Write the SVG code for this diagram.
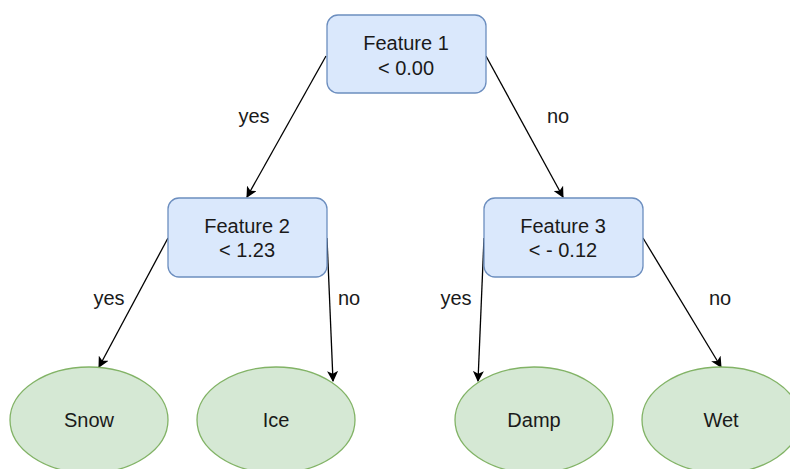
<svg xmlns="http://www.w3.org/2000/svg" width="790" height="469" viewBox="0 0 790 469">
<style>
.box{fill:#dae8fc;stroke:#6c8ebf;stroke-width:1.3}
.leaf{fill:#d5e8d4;stroke:#82b366;stroke-width:1.3}
text{font-family:"Liberation Sans",Arial,sans-serif;font-size:20px;fill:#1a1a1a;text-anchor:middle}
.edge{stroke:#000;stroke-width:1.3;fill:none;marker-end:url(#arr)}
</style>
<defs>
<marker id="arr" viewBox="0 0 10 10" refX="9" refY="5" markerWidth="11" markerHeight="11" markerUnits="userSpaceOnUse" orient="auto">
<path d="M0,0 L10,5 L0,10 L2.5,5 Z" fill="#000"/>
</marker>
</defs>
<rect width="790" height="469" fill="#fff"/>
<g id="connectors">
<line class="edge" x1="326" y1="56" x2="247" y2="197"/>
<line class="edge" x1="486" y1="56" x2="563" y2="197"/>
<line class="edge" x1="168" y1="238" x2="99" y2="367"/>
<line class="edge" x1="327" y1="238" x2="333" y2="381"/>
<line class="edge" x1="484" y1="238" x2="478" y2="381"/>
<line class="edge" x1="643" y1="238" x2="721" y2="367"/>
<text x="254" y="123">yes</text>
<text x="558" y="123">no</text>
<text x="109" y="305">yes</text>
<text x="349" y="305">no</text>
<text x="456" y="305">yes</text>
<text x="720" y="305">no</text>
</g>
<g id="root">
<rect class="box" x="327" y="15" width="159" height="78" rx="11"/>
<text x="406" y="50">Feature 1</text>
<text x="406" y="75">&lt; 0.00</text>
</g>
<g id="feature2">
<rect class="box" x="168" y="198" width="159" height="79" rx="11"/>
<text x="247" y="233">Feature 2</text>
<text x="247" y="257">&lt; 1.23</text>
</g>
<g id="feature3">
<rect class="box" x="484" y="198" width="159" height="79" rx="11"/>
<text x="563" y="233">Feature 3</text>
<text x="563" y="257">&lt; - 0.12</text>
</g>
<g id="snow">
<ellipse class="leaf" cx="89" cy="420" rx="79" ry="53"/>
<text x="89" y="427">Snow</text>
</g>
<g id="ice">
<ellipse class="leaf" cx="276" cy="420" rx="79" ry="53"/>
<text x="276" y="427">Ice</text>
</g>
<g id="damp">
<ellipse class="leaf" cx="534" cy="420" rx="79" ry="53"/>
<text x="534" y="427">Damp</text>
</g>
<g id="wet">
<ellipse class="leaf" cx="721" cy="420" rx="79" ry="53"/>
<text x="721" y="427">Wet</text>
</g>
</svg>
